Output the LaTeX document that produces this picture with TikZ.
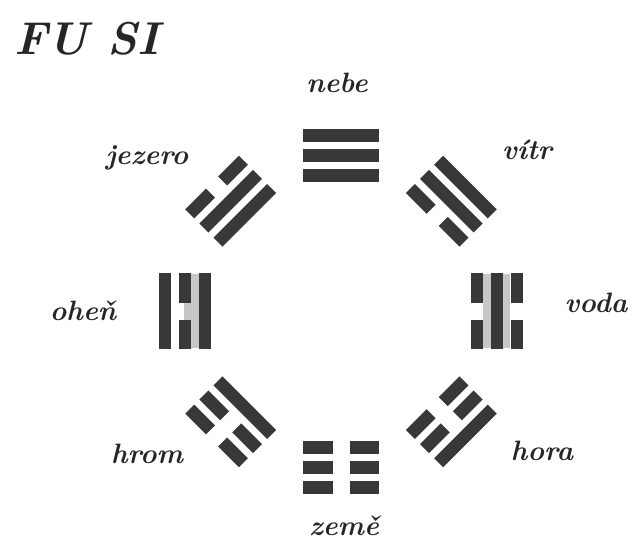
\documentclass[tikz,border=0pt]{standalone}
\usepackage{fontspec}
\begin{document}
\begin{tikzpicture}[x=1pt,y=1pt]
  \tikzset{
    bar/.style={fill=black!78, draw=none},
    shade/.style={fill=black!22, draw=none},
    lbl/.style={font=\fontsize{28}{32}\selectfont\bfseries\itshape,
                text=black!85, anchor=base, inner sep=0pt},
    ttl/.style={font=\fontsize{46}{50}\selectfont\bfseries\itshape,
                text=black!85, anchor=base west, inner sep=0pt},
  }
  % one trigram: angle, then lines from the inside out (1 = whole, 0 = broken)
  \newcommand\gua[4]{%
    \begin{scope}[shift={(C)}, rotate=#1-90]
      \foreach \k/\v in {1/#2, 2/#3, 3/#4} {
        \pgfmathsetmacro\yy{116+20*\k}
        \ifnum\v=1
          \fill[bar] (-38,\yy-6.4) rectangle (38,\yy+6.4);
        \else
          \fill[bar] (-38,\yy-6.4) rectangle (-8.5,\yy+6.4);
          \fill[bar] (8.5,\yy-6.4) rectangle (38,\yy+6.4);
        \fi
      }
    \end{scope}}

  \useasboundingbox (0,0) rectangle (635,544);
  \coordinate (C) at (341,232.5);

  % pale strips behind the fire and water signs
  \begin{scope}[shift={(C)}, rotate=90]
    \fill[shade] (-37,142) rectangle (37,157);
  \end{scope}
  \begin{scope}[shift={(C)}, rotate=-90]
    \fill[shade] (-37,142) rectangle (37,150);
    \fill[shade] (-37,162) rectangle (37,169);
  \end{scope}

  % the eight trigrams
  \gua{90}{1}{1}{1}   % nebe
  \gua{135}{1}{1}{0}  % jezero
  \gua{180}{1}{0}{1}  % ohen
  \gua{225}{1}{0}{0}  % hrom
  \gua{270}{0}{0}{0}  % zeme
  \gua{315}{0}{0}{1}  % hora
  \gua{0}{0}{1}{0}    % voda
  \gua{45}{0}{1}{1}   % vitr

  % title and names
  \node[ttl] (title) at (14,489) {FU SI};
  \node[lbl] (nebe)   at (337,451) {nebe};
  \node[lbl] (jezero) at (147,379) {jezero};
  \node[lbl] (vitr)   at (527,384) {vítr};
  \node[lbl] (ohen)   at (83,223)  {oheň};
  \node[lbl] (voda)   at (596,231) {voda};
  \node[lbl] (hrom)   at (147,80)  {hrom};
  \node[lbl] (hora)   at (542,83)  {hora};
  \node[lbl] (zeme)   at (344,9)   {země};
\end{tikzpicture}
\end{document}
